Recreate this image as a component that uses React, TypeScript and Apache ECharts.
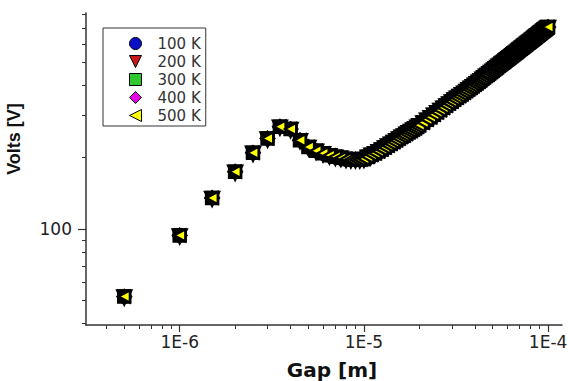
import React, { useEffect, useRef } from "react";
import * as echarts from "echarts";

// Gap values in micrometres (converted to metres for the axis)
const gapUm = [
  0.5, 1, 1.5, 2, 2.5, 3, 3.5, 4, 4.5, 5, 5.5, 6, 6.5, 7, 7.5, 8, 8.5, 9, 9.5,
  10, 10.5, 11, 11.5, 12, 12.5, 13, 13.5, 14, 14.5, 15, 15.5, 16, 16.5, 17, 17.5, 18, 18.5, 19, 19.5,
  20, 21, 22, 23, 24, 25, 26, 27, 28, 29, 30, 31, 32, 33, 34, 35, 36, 37, 38, 39,
  40, 41, 42, 43, 44, 45, 46, 47, 48, 49, 50, 51, 52, 53, 54, 55, 56, 57, 58, 59,
  60, 61, 62, 63, 64, 65, 66, 67, 68, 69, 70, 71, 72, 73, 74, 75, 76, 77, 78, 79,
  80, 81, 82, 83, 84, 85, 86, 87, 88, 89, 90, 91, 92, 93, 94, 95, 96, 97, 98, 99, 100,
];
// Breakdown voltage (the five temperature series coincide on the plot)
const volts = [
  52, 94, 135, 174, 209, 240, 269, 263, 236, 221, 213, 208, 204, 201, 199, 197, 196, 196, 196,
  197, 201, 205, 208, 212, 216, 220, 224, 228, 232, 236, 240, 244, 247, 251, 255, 258, 262, 265, 269,
  273, 280, 288, 295, 302, 309, 316, 323, 330, 337, 343, 350, 356, 362, 368, 374, 380, 386, 392, 398,
  404, 410, 416, 422, 428, 434, 440, 445, 451, 457, 462, 468, 474, 479, 485, 490, 496, 501, 506, 512,
  517, 522, 527, 532, 537, 542, 547, 552, 557, 562, 567, 572, 577, 582, 587, 591, 596, 601, 606, 610,
  615, 620, 625, 629, 634, 638, 643, 648, 652, 657, 661, 666, 670, 674, 679, 683, 688, 692, 696, 701, 705,
];
const seriesNames = ["100 K", "200 K", "300 K", "400 K", "500 K"];
const seriesColors = ["#0a10c8", "#c81818", "#2ec82e", "#e600e6", "#ffff00"];
const seriesSymbols = [
  "path://M5,0A5,5 0 1 1 4.99,0Z",
  "path://M0,0L10,0L5,10Z",
  "path://M0,0L10,0L10,10L0,10Z",
  "path://M5,0L10,5L5,10L0,5Z",
  "path://M10,0L10,10L0,5Z",
];

const xMajorTicks = [1e-6, 1e-5, 1e-4];
const xMinorTicks = [
  4e-7, 5e-7, 6e-7, 7e-7, 8e-7, 9e-7,
  2e-6, 3e-6, 4e-6, 5e-6, 6e-6, 7e-6, 8e-6, 9e-6,
  2e-5, 3e-5, 4e-5, 5e-5, 6e-5, 7e-5, 8e-5, 9e-5,
];
const yMajorTicks = [100];
const yMinorTicks = [40, 50, 60, 70, 80, 90, 200, 300, 400, 500, 600, 700, 800];

export default function App() {
  const ref = useRef<HTMLDivElement>(null);
  useEffect(() => {
    document.body.style.margin = "0";
    const chart = echarts.init(ref.current!, null, { renderer: "svg" });
    const data = gapUm.map((g, i) => [g * 1e-6, volts[i]]);
    const axisColor = "#333";
    const xRange = { min: 3.1e-7, max: 1.19e-4 };
    const yRange = { min: 39.5, max: 808 };
    const option: any = {
      animation: false,
      backgroundColor: "#fff",
      grid: { left: 86, top: 13, right: 6, bottom: 56, containLabel: false, outerBoundsMode: "none" },
      xAxis: [
        {
          type: "log", logBase: 10, ...xRange, position: "bottom",
          axisLine: { show: true, onZero: false, lineStyle: { color: axisColor, width: 1.5 } },
          axisTick: { show: true, length: 7, customValues: xMajorTicks, lineStyle: { color: axisColor, width: 1.2 } },
          axisLabel: {
            show: true, customValues: xMajorTicks, margin: 8,
            fontFamily: "DejaVu Sans", fontSize: 17, color: "#222",
            formatter: (v: number) => "1E" + Math.round(Math.log10(v)),
          },
          splitLine: { show: false },
        },
        {
          type: "log", logBase: 10, ...xRange, position: "bottom",
          axisLine: { show: false, onZero: false },
          axisTick: { show: true, length: 4, customValues: xMinorTicks, lineStyle: { color: axisColor, width: 1 } },
          axisLabel: { show: false },
          splitLine: { show: false },
        },
      ],
      yAxis: [
        {
          type: "log", logBase: 10, ...yRange, position: "left",
          axisLine: { show: true, onZero: false, lineStyle: { color: axisColor, width: 1.5 } },
          axisTick: { show: true, length: 8, customValues: yMajorTicks, lineStyle: { color: axisColor, width: 1.2 } },
          axisLabel: {
            show: true, customValues: yMajorTicks, margin: 14,
            fontFamily: "DejaVu Sans", fontSize: 17, color: "#222",
          },
          splitLine: { show: false },
        },
        {
          type: "log", logBase: 10, ...yRange, position: "left",
          axisLine: { show: false, onZero: false },
          axisTick: { show: true, length: 4, customValues: yMinorTicks, lineStyle: { color: axisColor, width: 1 } },
          axisLabel: { show: false },
          splitLine: { show: false },
        },
      ],
      legend: {
        orient: "vertical", left: 103, top: 28,
        padding: [8, 5, 3, 26],
        itemWidth: 12, itemHeight: 12, itemGap: 3,
        borderColor: "#333", borderWidth: 1, backgroundColor: "#fff",
        selectedMode: false,
        symbolKeepAspect: true,
        textStyle: { fontFamily: "DejaVu Sans", fontSize: 15, color: "#333", padding: [0, 0, 0, 11] },
        data: seriesNames.map((n, i) => ({
          name: n,
          icon: seriesSymbols[i],
          itemStyle: { color: seriesColors[i], borderColor: "#000", borderWidth: 1 },
        })),
      },
      series: seriesNames.map((n, i) => {
        const top = i === seriesNames.length - 1;
        return {
          name: n,
          type: "scatter",
          xAxisIndex: 0,
          yAxisIndex: 0,
          data,
          symbol: seriesSymbols[i],
          symbolSize: top ? [11, 12] : 9,
          itemStyle: {
            color: seriesColors[i],
            borderColor: "#000",
            borderWidth: top ? 2.2 : 5.5,
            opacity: 1,
          },
          z: 2 + i,
        };
      }),
      graphic: [
        {
          type: "text", x: 14, y: 139, rotation: Math.PI / 2,
          style: {
            text: "Volts [V]", fontFamily: "Liberation Sans", fontWeight: "bold", fontSize: 18,
            fill: "#111", align: "center", verticalAlign: "middle",
          },
        },
        {
          type: "text", x: 332, y: 370,
          style: {
            text: "Gap [m]", fontFamily: "DejaVu Sans", fontWeight: "bold", fontSize: 20,
            fill: "#111", align: "center", verticalAlign: "middle",
          },
        },
      ],
    };
    chart.setOption(option);
    return () => chart.dispose();
  }, []);
  return (
    <div
      ref={ref}
      style={{ position: "absolute", left: 0, top: 0, width: 568, height: 381, background: "#fff" }}
    />
  );
}
